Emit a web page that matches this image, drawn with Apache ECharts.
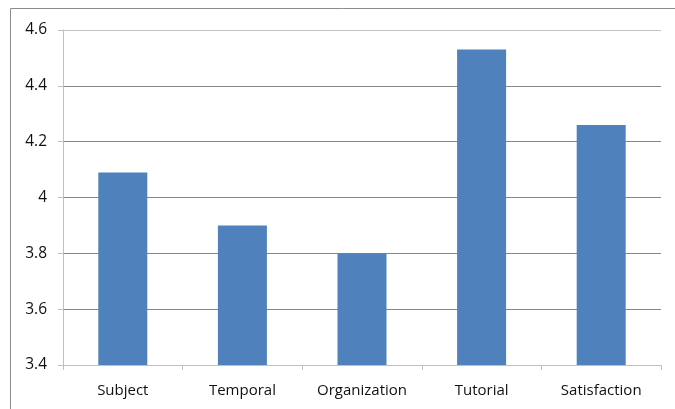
<!DOCTYPE html>
<html><head><meta charset="utf-8">
<script src="https://cdn.jsdelivr.net/npm/echarts@6/dist/echarts.min.js"></script>
<style>html,body{margin:0;padding:0;background:#fff}#c{width:675px;height:409px}</style>
</head><body><div id="c"></div>
<script>
const categories = ['Subject', 'Temporal', 'Organization', 'Tutorial', 'Satisfaction'];
const values = [4.09, 3.9, 3.8, 4.53, 4.26];
const yTicks = [3.4, 3.6, 3.8, 4.0, 4.2, 4.4, 4.6];

const chart = echarts.init(document.getElementById('c'), null, {renderer: 'canvas'});
chart.setOption({
  animation: false,
  backgroundColor: '#fff',
  graphic: [
    {type: 'line', shape: {x1: 10.5, y1: 8.5, x2: 675, y2: 8.5}, style: {stroke: '#8c8c8c', lineWidth: 1}},
    {type: 'line', shape: {x1: 10.5, y1: 8.5, x2: 10.5, y2: 409}, style: {stroke: '#8c8c8c', lineWidth: 1}}
  ],
  grid: {left: 63, right: 14, top: 30, bottom: 44, containLabel: false},
  xAxis: {
    type: 'category',
    data: categories,
    axisLine: {lineStyle: {color: '#bfbfbf'}},
    axisTick: {show: true, length: 5, interval: 0, lineStyle: {color: '#bfbfbf'}},
    axisLabel: {color: '#111', fontFamily: 'Open Sans', fontSize: 15, margin: 18, interval: 0, hideOverlap: false}
  },
  yAxis: {
    type: 'value',
    min: 3.4, max: 4.6, interval: 0.2,
    axisLine: {show: true, lineStyle: {color: '#bfbfbf'}},
    axisTick: {show: true, length: 5, lineStyle: {color: '#bfbfbf'}},
    axisLabel: {color: '#111', fontFamily: 'Open Sans', fontSize: 15.5, margin: 16,
      formatter: v => { const t = yTicks.find(x => Math.abs(x - v) < 1e-6); return t === 4 ? '4' : String(+v.toFixed(1)); }},
    splitLine: {show: true, lineStyle: {color: ['#878787','#878787','#878787','#878787','#878787','#878787','#c4c4c4'], width: 1}}
  },
  series: [{
    type: 'bar',
    data: values,
    barWidth: 49,
    itemStyle: {color: '#4f81bd'}
  }]
});
</script></body></html>
